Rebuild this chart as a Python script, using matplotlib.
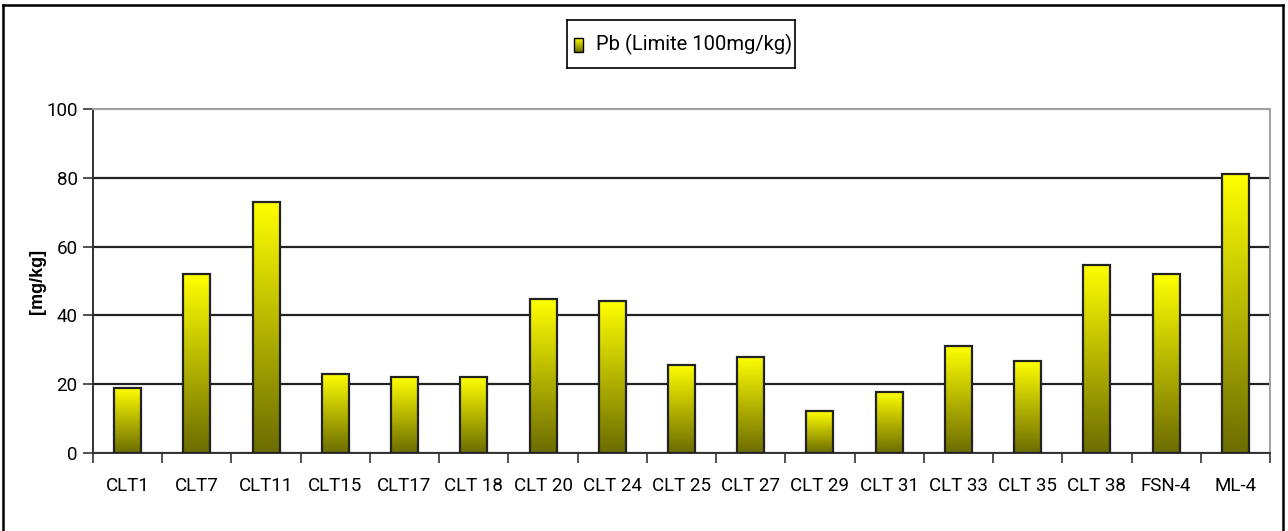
import matplotlib
matplotlib.use("Agg")
import matplotlib.pyplot as plt
import numpy as np
from matplotlib.colors import LinearSegmentedColormap
from matplotlib.patches import Rectangle
from matplotlib.lines import Line2D

categories = ["CLT1", "CLT7", "CLT11", "CLT15", "CLT17", "CLT 18", "CLT 20", "CLT 24",
              "CLT 25", "CLT 27", "CLT 29", "CLT 31", "CLT 33", "CLT 35", "CLT 38",
              "FSN-4", "ML-4"]
pb_values = [19, 52, 73, 23, 22, 22, 44.7, 44.3, 25.7, 28, 12.2, 17.8, 31, 26.8, 54.7, 52, 81]
series_label = "Pb (Limite 100mg/kg)"
y_label = "[mg/kg]"
y_ticks = [0, 20, 40, 60, 80, 100]

plt.rcParams["font.family"] = ["Roboto", "DejaVu Sans"]

fig = plt.figure(figsize=(12.88, 5.31), dpi=100)
fig.patch.set_facecolor("white")

# outer frame of the chart
for xs, ys in [([0.0025, 0.0025], [0.0, 0.991]), ([0.0025, 0.9965], [0.991, 0.991]),
               ([0.9965, 0.9965], [0.991, 0.0])]:
    fig.add_artist(Line2D(xs, ys, color="black", lw=1.8, transform=fig.transFigure))

ax = fig.add_axes([0.0722, 0.1469, 0.9138, 0.6478])
x = np.arange(len(categories))
bar_w = 0.39

bars = ax.bar(x, pb_values, width=bar_w, facecolor="none", edgecolor="#222222",
              linewidth=1.6, zorder=3)

cmap = LinearSegmentedColormap.from_list("olive_yellow", ["#6c6c00", "#b5b500", "#ffff00"])
grad = np.linspace(0, 1, 256).reshape(-1, 1)
for b in bars:
    x0, y0 = b.get_x(), b.get_y()
    w, h = b.get_width(), b.get_height()
    ax.imshow(grad, cmap=cmap, origin="lower", aspect="auto",
              extent=(x0, x0 + w, y0, y0 + h), zorder=2, interpolation="bilinear")

ax.set_xlim(-0.5, len(categories) - 0.5)
ax.set_ylim(0, 100)
ax.set_yticks(y_ticks)
ax.set_xticks(x)
ax.set_xticklabels(categories)
ax.set_xticks(np.arange(-0.5, len(categories)), minor=True)
ax.tick_params(axis="x", which="major", length=0, pad=17, labelsize=13.5)
ax.tick_params(axis="x", which="minor", length=7, width=1.2, color="#333333", direction="out")
ax.tick_params(axis="y", length=7, width=1.2, color="#333333", direction="out", pad=4, labelsize=13.5)

ax.yaxis.grid(True, color="#222222", linewidth=1.6, zorder=1)
ax.set_axisbelow(True)
for g in ax.get_ygridlines()[-1:]:
    g.set_color("#a0a0a0")

ax.spines["left"].set_color("#333333")
ax.spines["left"].set_linewidth(1.4)
ax.spines["bottom"].set_color("#333333")
ax.spines["bottom"].set_linewidth(1.4)
ax.spines["top"].set_color("#a0a0a0")
ax.spines["top"].set_linewidth(1.4)
ax.spines["right"].set_color("#a0a0a0")
ax.spines["right"].set_linewidth(1.4)

ax.set_ylabel(y_label, fontsize=13, fontweight="bold", labelpad=0,
              family=["Liberation Sans", "DejaVu Sans"])

# legend with a gradient swatch
leg_ax = fig.add_axes([0.4405, 0.872, 0.177, 0.09])
for s in leg_ax.spines.values():
    s.set_linewidth(1.2)
    s.set_color("black")
sw_x, sw_y, sw_w, sw_h = 0.03, 0.34, 0.04, 0.28
leg_ax.imshow(grad, cmap=cmap, origin="lower", aspect="auto",
              extent=(sw_x, sw_x + sw_w, sw_y, sw_y + sw_h), zorder=2)
leg_ax.add_patch(Rectangle((sw_x, sw_y), sw_w, sw_h, facecolor="none",
                           edgecolor="black", linewidth=1.0, zorder=3))
leg_ax.set_xlim(0, 1)
leg_ax.set_ylim(0, 1)
leg_ax.set_xticks([])
leg_ax.set_yticks([])
leg_ax.text(0.125, 0.5, series_label, fontsize=14.5, va="center", ha="left")

fig.savefig("out.png", dpi=100, facecolor="white")
